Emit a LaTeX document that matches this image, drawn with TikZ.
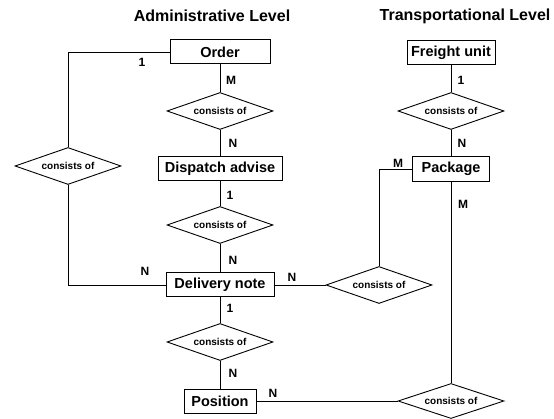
\documentclass[tikz,border=0pt]{standalone}
\usepackage{fontspec}
\setmainfont{Liberation Sans}
\usetikzlibrary{shapes.geometric}
\begin{document}
\begin{tikzpicture}[x=1pt,y=-1pt,
 entity/.style={draw, line width=1pt, minimum height=24pt, inner sep=0pt, font=\fontsize{14.5}{16}\selectfont\bfseries},
 rel/.style={draw, diamond, aspect=2.9, line width=0.9pt, minimum width=106pt, minimum height=37pt, inner sep=0pt, font=\fontsize{10}{11}\selectfont\bfseries},
 card/.style={font=\fontsize{12}{13}\selectfont\bfseries, inner sep=0pt},
 heading/.style={font=\fontsize{16}{18}\selectfont\bfseries, inner sep=0pt},
 conn/.style={line width=0.9pt}]
\useasboundingbox (0,0) rectangle (554,419);
\node[heading] (tadm) at (212,16) {Administrative Level};
\node[heading] (ttr) at (465,16) {Transportational Level};
\node[entity, minimum width=100pt] (order) at (220,52) {Order};
\node[entity, minimum width=88pt] (freight) at (451,53) {Freight unit};
\node[rel] (d1) at (220,111) {consists of};
\node[rel] (fd) at (451,111) {consists of};
\node[rel] (ld) at (68,166) {consists of};
\node[entity, minimum width=124pt] (disp) at (220,169) {Dispatch advise};
\node[entity, minimum width=77pt, minimum height=25pt] (pack) at (451,169) {Package};
\node[rel] (d2) at (220,225) {consists of};
\node[entity, minimum width=108pt] (deliv) at (220,285) {Delivery note};
\node[rel] (mrd) at (379,285) {consists of};
\node[rel] (d3) at (220,342) {consists of};
\node[entity, minimum width=72pt] (pos) at (220,401) {Position};
\node[rel, minimum height=35pt] (brd) at (451,401) {consists of};
\draw[conn] (order) -- (d1);
\draw[conn] (d1) -- (disp);
\draw[conn] (disp) -- (d2);
\draw[conn] (d2) -- (deliv);
\draw[conn] (deliv) -- (d3);
\draw[conn] (d3) -- (pos);
\draw[conn] (pos) -- (brd);
\draw[conn] (deliv) -- (mrd);
\draw[conn] (order.west) -| (ld.north);
\draw[conn] (ld.south) |- (deliv.west);
\draw[conn] (pack.west) -| (mrd.north);
\draw[conn] (pack) -- (brd);
\draw[conn] (freight) -- (fd);
\draw[conn] (fd) -- (pack);
\node[card] (c1) at (142,62) {1};
\node[card] (c2) at (231,80) {M};
\node[card] (c3) at (233,143) {N};
\node[card] (c4) at (230,195) {1};
\node[card] (c5) at (233,260) {N};
\node[card] (c6) at (145,271) {N};
\node[card] (c7) at (292,277) {N};
\node[card] (c8) at (230,308) {1};
\node[card] (c9) at (233,373) {N};
\node[card] (c10) at (273,393) {N};
\node[card] (c11) at (461,80) {1};
\node[card] (c12) at (462,143) {N};
\node[card] (c13) at (398,163) {M};
\node[card] (c14) at (463,204) {M};
\end{tikzpicture}
\end{document}
